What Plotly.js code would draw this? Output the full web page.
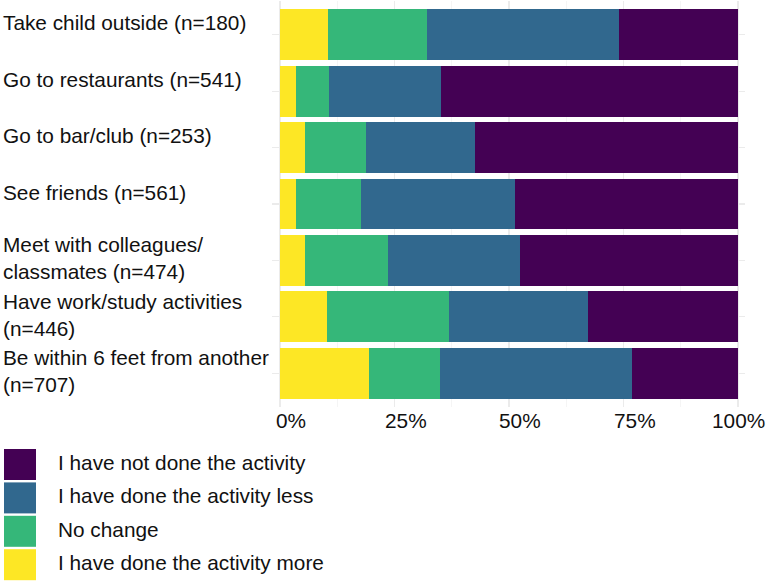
<!DOCTYPE html>
<html>
<head>
<meta charset="utf-8">
<script src="https://cdn.plot.ly/plotly-3.0.1.min.js"></script>
<style>html,body{margin:0;padding:0;background:#fff;}#chart{width:766px;height:582px;}</style>
</head>
<body>
<div id="chart"></div>
<script>
// ---- data ----
const categories = [
  "Take child outside (n=180)",
  "Go to restaurants (n=541)",
  "Go to bar/club (n=253)",
  "See friends (n=561)",
  "Meet with colleagues/<br>classmates (n=474)",
  "Have work/study activities<br>(n=446)",
  "Be within 6 feet from another<br>(n=707)"
];
const seriesNames = [
  "I have done the activity more",
  "No change",
  "I have done the activity less",
  "I have not done the activity"
];
const doneMore   = [10.5, 3.4, 5.5, 3.4, 5.4, 10.2, 19.5];
const noChange   = [21.7, 7.4, 13.3, 14.2, 18.1, 26.7, 15.4];
const doneLess   = [41.8, 24.3, 23.7, 33.6, 28.9, 30.3, 42.0];
const notDone    = [26.0, 64.9, 57.5, 48.8, 47.6, 32.8, 23.1];
const tickVals   = [0, 25, 50, 75, 100];
const tickLabels = ["0%", "25%", "50%", "75%", "100%"];

// ---- style ----
const colors = ["#FDE725", "#35B779", "#31688E", "#440154"];
const FONT = '"Liberation Sans", Arial, sans-serif';
const FS = 20.8;
const W = 766, H = 582;
const M = {l: 272, r: 21, t: 1, b: 175};
const pw = W - M.l - M.r, ph = H - M.t - M.b;
const xp = px => (px - M.l) / pw;
const yp = py => (M.t + ph - py) / ph;
const xRange = [-8 / 4.58, 100 + 7 / 4.58];
const pxPerUnit = pw / (xRange[1] - xRange[0]);
const xToPx = v => M.l + (v - xRange[0]) * pxPerUnit;

const seriesValues = [doneMore, noChange, doneLess, notDone];
const traces = seriesValues.map((vals, i) => ({
  type: "bar",
  orientation: "h",
  name: seriesNames[i],
  x: vals,
  y: categories,
  marker: {color: colors[i], line: {width: 0}},
  showlegend: false,
  hoverinfo: "skip"
}));

const annotations = [];
const shapes = [];

// category labels (left aligned)
categories.forEach((c, i) => {
  const twoLines = c.indexOf("<br>") >= 0;
  annotations.push({
    xref: "paper", x: xp(1), xanchor: "left",
    yref: "y", y: i, yanchor: "middle",
    yshift: twoLines ? 2 : 12,
    text: c, showarrow: false, align: "left",
    font: {family: FONT, size: FS, color: "#111"}
  });
});

// x tick labels
const cv = document.createElement("canvas").getContext("2d");
cv.font = FS + 'px "Liberation Sans"';
tickVals.forEach((v, i) => {
  const w = cv.measureText(tickLabels[i]).width;
  const px = xToPx(v);
  let center = px + 11;
  if (center + w / 2 > W - 1) center = W - 1 - w / 2;
  annotations.push({
    xref: "x", x: v, xanchor: "center", xshift: center - px,
    yref: "paper", y: 0, yanchor: "middle", yshift: -13.7,
    text: tickLabels[i], showarrow: false,
    font: {family: FONT, size: FS, color: "#111"}
  });
});

// legend (manual, large keys), top-to-bottom reverse of stacking
for (let k = 0; k < 4; k++) {
  const idx = 3 - k;
  const cy = 464.5 + k * 33.4;
  shapes.push({
    type: "rect", xref: "paper", yref: "paper",
    x0: xp(4), x1: xp(36), y0: yp(cy + 15.5), y1: yp(cy - 15.5),
    fillcolor: colors[idx], line: {width: 0}, layer: "above"
  });
  annotations.push({
    xref: "paper", x: xp(56), xanchor: "left",
    yref: "paper", y: yp(cy - 2), yanchor: "middle",
    text: seriesNames[idx], showarrow: false,
    font: {family: FONT, size: FS, color: "#111"}
  });
}

const layout = {
  width: W, height: H,
  margin: M,
  paper_bgcolor: "#fff", plot_bgcolor: "#fff",
  barmode: "stack",
  bargap: 0.1,
  showlegend: false,
  xaxis: {
    range: xRange, tick0: 0, dtick: 25,
    showticklabels: false, ticks: "",
    showgrid: true, gridcolor: "#EBEBEB", gridwidth: 1.2,
    minor: {tick0: 0, dtick: 12.5, showgrid: true, gridcolor: "#F2F2F2", gridwidth: 0.8},
    zeroline: false, showline: false, fixedrange: true
  },
  yaxis: {
    type: "category", categoryorder: "array", categoryarray: categories,
    range: [6.6, -0.6],
    showticklabels: false, ticks: "",
    showgrid: true, gridcolor: "#EBEBEB", gridwidth: 1.2,
    zeroline: false, showline: false, fixedrange: true
  },
  annotations: annotations,
  shapes: shapes,
  hovermode: false
};

Plotly.newPlot("chart", traces, layout, {staticPlot: true, displayModeBar: false});
</script>
</body>
</html>
